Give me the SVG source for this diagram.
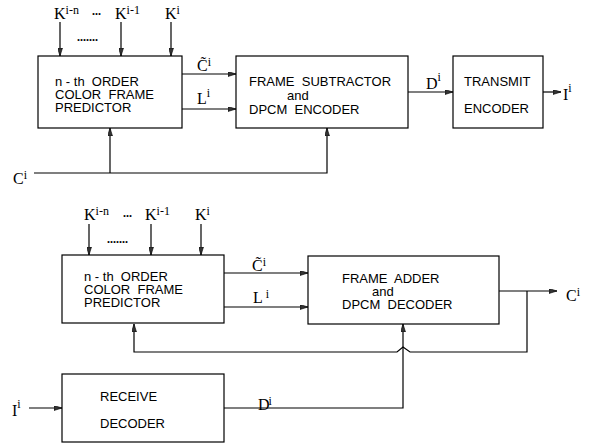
<svg xmlns="http://www.w3.org/2000/svg" width="590" height="447" viewBox="0 0 590 447">
<style>
.box{fill:#fff;stroke:#000;stroke-width:1.2}
.ln{fill:none;stroke:#000;stroke-width:1.2}
.t{font-family:"Liberation Sans",Arial,sans-serif;font-size:13px;fill:#000}
.s{font-family:"Liberation Serif","Times New Roman",serif;font-size:16px;fill:#000}
.sup{font-size:12px}
.dots{font-family:"Liberation Serif",serif;font-size:12px;font-weight:bold;fill:#000}
</style>
<defs>
<marker id="ar" viewBox="0 0 8 5" refX="8" refY="2.5" markerWidth="8" markerHeight="5" markerUnits="userSpaceOnUse" orient="auto">
<path d="M0,0 L8,2.5 L0,5 Z" fill="#333" stroke="#000" stroke-width="0.6"/>
</marker>
</defs>
<rect width="590" height="447" fill="#fff"/>

<g id="connectors">
<line class="ln" x1="60" y1="22" x2="60" y2="56" marker-end="url(#ar)"/>
<line class="ln" x1="121" y1="22" x2="121" y2="56" marker-end="url(#ar)"/>
<line class="ln" x1="171" y1="22" x2="171" y2="56" marker-end="url(#ar)"/>
<line class="ln" x1="182" y1="74" x2="236" y2="74" marker-end="url(#ar)"/>
<line class="ln" x1="182" y1="109" x2="236" y2="109" marker-end="url(#ar)"/>
<polyline class="ln" points="34,173 327,173 327,128" marker-end="url(#ar)"/>
<line class="ln" x1="110" y1="173" x2="110" y2="128" marker-end="url(#ar)"/>
<line class="ln" x1="408" y1="92" x2="453" y2="92" marker-end="url(#ar)"/>
<line class="ln" x1="543" y1="92" x2="561" y2="92" marker-end="url(#ar)"/>
<line class="ln" x1="89" y1="224" x2="89" y2="255" marker-end="url(#ar)"/>
<line class="ln" x1="151" y1="224" x2="151" y2="255" marker-end="url(#ar)"/>
<line class="ln" x1="201" y1="224" x2="201" y2="255" marker-end="url(#ar)"/>
<line class="ln" x1="224" y1="273" x2="308" y2="273" marker-end="url(#ar)"/>
<line class="ln" x1="224" y1="307" x2="308" y2="307" marker-end="url(#ar)"/>
<line class="ln" x1="499" y1="291" x2="557" y2="291" marker-end="url(#ar)"/>
<polyline class="ln" points="527,291 527,352 410,352 403,347 397,352 134,352 134,324" marker-end="url(#ar)"/>
<line class="ln" x1="29" y1="408" x2="62" y2="408" marker-end="url(#ar)"/>
<polyline class="ln" points="224,408 403,408 403,324" marker-end="url(#ar)"/>
</g>

<g id="predictor1">
<rect class="box" x="38" y="56" width="144" height="72"/>
<text class="t" x="55" y="86" xml:space="preserve">n - th  ORDER</text>
<text class="t" x="55" y="99" xml:space="preserve">COLOR  FRAME</text>
<text class="t" x="55" y="112">PREDICTOR</text>
</g>
<g id="subtractor">
<rect class="box" x="236" y="56" width="172" height="72"/>
<text class="t" x="249" y="86" xml:space="preserve">FRAME  SUBTRACTOR</text>
<text class="t" x="287" y="100">and</text>
<text class="t" x="249" y="114" xml:space="preserve">DPCM  ENCODER</text>
</g>
<g id="transmit">
<rect class="box" x="453" y="56" width="90" height="72"/>
<text class="t" x="464" y="86">TRANSMIT</text>
<text class="t" x="464" y="113">ENCODER</text>
</g>
<g id="predictor2">
<rect class="box" x="62" y="255" width="162" height="68"/>
<text class="t" x="84" y="281" xml:space="preserve">n - th  ORDER</text>
<text class="t" x="84" y="294" xml:space="preserve">COLOR  FRAME</text>
<text class="t" x="84" y="307">PREDICTOR</text>
</g>
<g id="adder">
<rect class="box" x="308" y="256" width="191" height="68"/>
<text class="t" x="342" y="283" xml:space="preserve">FRAME  ADDER</text>
<text class="t" x="372" y="296">and</text>
<text class="t" x="342" y="309" xml:space="preserve">DPCM  DECODER</text>
</g>
<g id="receive">
<rect class="box" x="62" y="374" width="162" height="68"/>
<text class="t" x="100" y="401">RECEIVE</text>
<text class="t" x="100" y="428">DECODER</text>
</g>

<g id="labels">
<text class="s" x="54" y="19">K<tspan class="sup" dy="-5">i-n</tspan></text>
<text class="dots" x="92" y="15">...</text>
<text class="s" x="115" y="19">K<tspan class="sup" dy="-5">i-1</tspan></text>
<text class="s" x="165" y="19">K<tspan class="sup" dy="-5">i</tspan></text>
<text class="dots" x="77" y="41">.......</text>
<text class="s" x="197" y="71">C&#x303;<tspan class="sup" dy="-5">i</tspan></text>
<text class="s" x="197" y="104">L<tspan class="sup" dy="-7">i</tspan></text>
<text class="s" x="13" y="184">C<tspan class="sup" dy="-5">i</tspan></text>
<text class="s" x="426" y="89">D<tspan class="sup" dy="-8">i</tspan></text>
<text class="s" x="563" y="100">I<tspan class="sup" dy="-8">i</tspan></text>

<text class="s" x="84" y="220">K<tspan class="sup" dy="-5">i-n</tspan></text>
<text class="dots" x="123" y="217">...</text>
<text class="s" x="145" y="220">K<tspan class="sup" dy="-5">i-1</tspan></text>
<text class="s" x="195" y="220">K<tspan class="sup" dy="-5">i</tspan></text>
<text class="dots" x="107" y="243">.......</text>
<text class="s" x="252" y="271">C&#x303;<tspan class="sup" dy="-5">i</tspan></text>
<text class="s" x="253" y="303">L<tspan class="sup" dy="-5" dx="3">i</tspan></text>
<text class="s" x="566" y="301">C<tspan class="sup" dy="-5">i</tspan></text>
<text class="s" x="12" y="416">I<tspan class="sup" dy="-8">i</tspan></text>
<text class="s" x="258" y="410">D<tspan class="sup" dy="-5" dx="-1">i</tspan></text>
</g>
</svg>
